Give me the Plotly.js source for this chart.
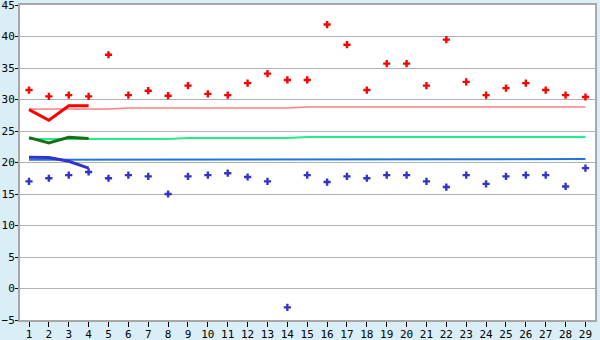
<!DOCTYPE html>
<html>
<head>
<meta charset="utf-8">
<script src="https://cdn.plot.ly/plotly-3.0.1.min.js"></script>
<style>html,body{margin:0;padding:0;background:#d9eef6;}#chart{width:600px;height:340px;}</style>
</head>
<body>
<div id="chart"></div>
<script>
const xs = [1,2,3,4,5,6,7,8,9,10,11,12,13,14,15,16,17,18,19,20,21,22,23,24,25,26,27,28,29];
const upperPoints = [31.5,30.5,30.7,30.5,37.1,30.7,31.4,30.6,32.2,30.9,30.7,32.6,34.1,33.1,33.1,41.9,38.7,31.5,35.7,35.7,32.2,39.5,32.8,30.7,31.8,32.6,31.5,30.7,30.4];
const lowerPoints = [17.0,17.5,18.0,18.5,17.5,18.0,17.8,15.0,17.8,18.0,18.3,17.7,17.0,-3.0,18.0,16.9,17.8,17.5,18.0,18.0,17.0,16.1,18.0,16.6,17.8,18.0,18.0,16.2,19.1];
const pinkLine = [28.5,28.5,28.5,28.5,28.5,28.65,28.65,28.65,28.65,28.65,28.65,28.65,28.65,28.65,28.8,28.8,28.8,28.8,28.8,28.8,28.8,28.8,28.8,28.8,28.8,28.8,28.8,28.8,28.8];
const lightGreenLine = [23.75,23.75,23.75,23.75,23.75,23.75,23.75,23.75,23.9,23.9,23.9,23.9,23.9,23.9,24.05,24.05,24.05,24.05,24.05,24.05,24.05,24.05,24.05,24.05,24.05,24.05,24.05,24.05,24.05];
const lightBlueLine = [20.45,20.45,20.45,20.55,20.55,20.55,20.55,20.55,20.55,20.55,20.55,20.55,20.55,20.55,20.55,20.55,20.55,20.55,20.55,20.55,20.55,20.55,20.55,20.55,20.55,20.55,20.55,20.55,20.55];
const xsShort = [1,2,3,4];
const redThick = [28.4,26.7,29.0,29.0];
const greenThick = [23.95,23.1,24.0,23.8];
const blueThick = [20.85,20.8,20.2,19.1];

const traces = [
  {x: xs, y: pinkLine, mode: 'lines', line: {color: '#ff8080', width: 1.5}},
  {x: xs, y: lightGreenLine, mode: 'lines', line: {color: '#22ee88', width: 2}},
  {x: xs, y: lightBlueLine, mode: 'lines', line: {color: '#1f74e0', width: 2}},
  {x: xsShort, y: redThick, mode: 'lines', line: {color: '#ff0000', width: 3}},
  {x: xsShort, y: greenThick, mode: 'lines', line: {color: '#1a6e1a', width: 3}},
  {x: xsShort, y: blueThick, mode: 'lines', line: {color: '#3333cc', width: 3}},
  {x: xs, y: upperPoints, mode: 'markers', marker: {symbol: 'cross', size: 6, color: '#ff0000'}},
  {x: xs, y: lowerPoints, mode: 'markers', marker: {symbol: 'cross', size: 6, color: '#3333cc'}}
];

const layout = {
  width: 600, height: 340,
  margin: {l: 20, r: 5, t: 5, b: 20, pad: 0},
  paper_bgcolor: '#d9eef6',
  plot_bgcolor: '#ffffff',
  showlegend: false,
  font: {family: 'DejaVu Sans Mono, monospace', size: 11, color: '#000'},
  xaxis: {
    range: [0.547, 29.48], tickmode: 'array', tickvals: xs, ticktext: xs.map(String),
    showgrid: false, zeroline: false,
    showline: true, linecolor: '#a8a8a8', linewidth: 2, mirror: true,
    ticks: 'outside', ticklen: 5, tickcolor: '#000', tickwidth: 1,
    ticklabelstandoff: -2, ticklabeloverflow: 'allow',
    tickfont: {size: 11}
  },
  yaxis: {
    range: [-5, 45], dtick: 5, tick0: 0,
    showgrid: true, gridcolor: '#b0b0b0', gridwidth: 1, zeroline: false,
    showline: true, linecolor: '#a8a8a8', linewidth: 2, mirror: true,
    ticks: 'outside', ticklen: 3, tickcolor: '#000', tickwidth: 1,
    ticklabelstandoff: -2, ticklabeloverflow: 'allow',
    tickfont: {size: 11}
  }
};

Plotly.newPlot('chart', traces, layout, {staticPlot: true, displayModeBar: false});
</script>
</body>
</html>
